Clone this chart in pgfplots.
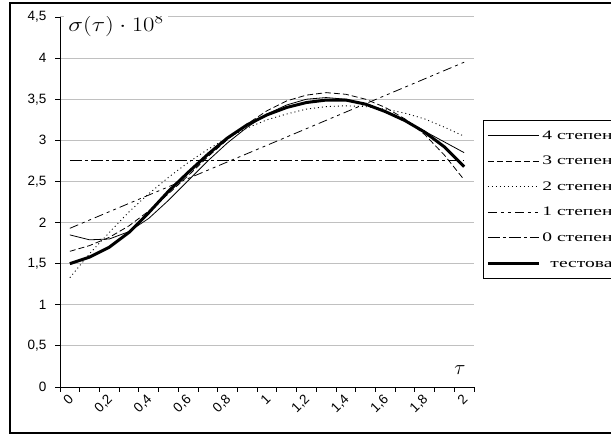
\documentclass[border=0pt]{standalone}
\usepackage{fontspec}
\setmainfont{Liberation Sans}
\newfontfamily\legfont{Liberation Serif}
\usepackage{graphicx}
\usepackage{pgfplots}
\pgfplotsset{compat=1.18}

\definecolor{gridgray}{HTML}{C0C0C0}

% test function and its polynomial fits
\pgfplotstableread{
t    test  d4    d3    d2
0.0  1.50  1.85  1.65  1.33
0.1  1.58  1.79  1.72  1.62
0.2  1.70  1.80  1.82  1.88
0.3  1.88  1.89  1.96  2.13
0.4  2.12  2.05  2.14  2.35
0.5  2.38  2.27  2.35  2.55
0.6  2.61  2.51  2.57  2.73
0.7  2.83  2.75  2.80  2.89
0.8  3.03  2.97  3.01  3.03
0.9  3.19  3.16  3.20  3.15
1.0  3.31  3.32  3.36  3.25
1.1  3.40  3.43  3.48  3.32
1.2  3.46  3.50  3.55  3.38
1.3  3.49  3.52  3.58  3.41
1.4  3.49  3.50  3.56  3.42
1.5  3.44  3.44  3.50  3.41
1.6  3.35  3.35  3.40  3.38
1.7  3.24  3.24  3.26  3.33
1.8  3.10  3.11  3.07  3.26
1.9  2.92  2.98  2.82  3.16
2.0  2.68  2.85  2.52  3.05
}\fits

\begin{document}
\begin{tikzpicture}
\useasboundingbox (0bp,0bp) rectangle (611bp,435bp);
\clip (0bp,0bp) rectangle (611bp,435bp);
\draw[line width=1.2bp] (10bp,2bp) rectangle (720bp,432bp);
\begin{axis}[
  at={(60bp,48bp)}, anchor=south west,
  scale only axis, width=414bp, height=370bp,
  xmin=-0.05, xmax=2.05, ymin=0, ymax=4.5,
  axis lines*=left,
  axis line style={black, line width=0.9bp},
  tick align=outside, major tick length=5bp,
  tick style={black, line width=0.8bp},
  xtick={-0.05,0.05,0.15,0.25,0.35,0.45,0.55,0.65,0.75,0.85,0.95,1.05,1.15,1.25,1.35,1.45,1.55,1.65,1.75,1.85,1.95,2.05},
  xticklabels={},
  extra x ticks={0,0.2,0.4,0.6,0.8,1,1.2,1.4,1.6,1.8,2},
  extra x tick labels={0,{0,2},{0,4},{0,6},{0,8},1,{1,2},{1,4},{1,6},{1,8},2},
  extra x tick style={major tick length=0pt},
  xticklabel style={rotate=45, anchor=east, xshift=-3bp, yshift=-8bp, font=\fontsize{13.5bp}{15bp}\selectfont},
  ytick={0,0.5,...,4.5},
  yticklabel style={xshift=-5bp, font=\fontsize{13.5bp}{15bp}\selectfont},
  /pgf/number format/.cd, use comma, assume math mode=true,
  /pgfplots/.cd,
  ymajorgrids, major grid style={gridgray, line width=1bp},
  legend style={at={(rel axis cs:1.0217,0.7216)}, anchor=north west,
    draw=black, line width=1bp, fill=white,
    font=\legfont\fontsize{13bp}{15bp}\selectfont,
    row sep=11.5bp, inner xsep=3bp, inner ysep=8bp},
  legend cell align=left,
  legend image code/.code={\draw[#1] (0bp,0bp) -- (51bp,0bp);},
]
\addplot[black, line width=0.8bp] table[x=t, y=d4] {\fits};
\addlegendentry{\scalebox{1.5}[1]{4 степени}}
\addplot[black, line width=0.8bp, dash pattern=on 6bp off 3bp] table[x=t, y=d3] {\fits};
\addlegendentry{\scalebox{1.5}[1]{3 степени}}
\addplot[black, line width=0.9bp, dash pattern=on 1bp off 3bp] table[x=t, y=d2] {\fits};
\addlegendentry{\scalebox{1.5}[1]{2 степени}}
\addplot[black, line width=0.8bp, dash pattern=on 9bp off 4bp on 3bp off 4bp on 3bp off 4bp] coordinates {(0,1.93) (2,3.95)};
\addlegendentry{\scalebox{1.5}[1]{1 степени}}
\addplot[black, line width=0.8bp, dash pattern=on 12bp off 3bp on 3bp off 3bp] coordinates {(0,2.75) (2,2.75)};
\addlegendentry{\scalebox{1.5}[1]{0 степени}}
\addplot[black, line width=3bp] table[x=t, y=test] {\fits};
\addlegendentry{\hspace{8bp}\scalebox{1.5}[1]{тестовая функция}}
\node[anchor=north west, fill=white, inner xsep=4bp, inner ysep=1bp, font=\fontsize{20bp}{22bp}\selectfont] at (rel axis cs:0.01,1.01) {\scalebox{1.2}[1]{$\sigma(\tau)\cdot 10^{8}$}};
\node[font=\fontsize{21bp}{22bp}\selectfont] at (rel axis cs:0.966,0.045) {$\tau$};
\end{axis}
\end{tikzpicture}
\end{document}
